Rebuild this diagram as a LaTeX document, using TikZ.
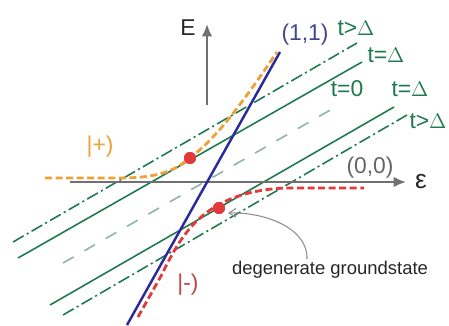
\documentclass[tikz,border=0pt]{standalone}
\usepackage{fontspec}
\setsansfont{Liberation Sans}
\usetikzlibrary{arrows.meta,positioning,calc}
\definecolor{lineG}{HTML}{1E7A4E}
\definecolor{softG}{HTML}{8DB5A6}
\definecolor{lineB}{HTML}{2A2A9C}
\definecolor{txtB}{HTML}{45458F}
\definecolor{stateP}{HTML}{F0A038}
\definecolor{stateM}{HTML}{E23A3A}
\definecolor{txtM}{HTML}{C0454A}
\definecolor{axisG}{HTML}{707070}

\begin{document}
\begin{tikzpicture}[
  x=0.02cm,y=-0.02cm,
  font=\sffamily\fontsize{13}{15}\selectfont,
  every node/.style={align=center,inner sep=1pt},
  axis/.style={line width=1.2pt,axisG,-{Latex[length=7pt,width=6pt]}},
  level/.style={line width=0.9pt,lineG},
  levelx/.style={level,dash pattern=on 7pt off 2pt on 1.2pt off 2pt},
  levelz/.style={line width=0.9pt,softG,dash pattern=on 7pt off 7pt},
  diab/.style={line width=1.4pt,lineB},
  branch/.style={line width=1.6pt,dash pattern=on 4pt off 2pt},
  dot/.style={circle,fill=stateM,minimum size=0.24cm,inner sep=0pt},
  pointer/.style={line width=0.6pt,axisG!80,-{Straight Barb[length=4pt,width=5pt]}}
]
\useasboundingbox (0,0) rectangle (449,325);

% green level lines
\draw[levelx] (13,242) -- (357,43);
\draw[level]  (18,258) -- (362,62);
\draw[levelz] (63,263) -- (339,105);
\draw[level]  (50,305) -- (394,107);
\draw[levelx] (63,315) -- (407,115);

% axes
\coordinate (eps0) at (70,182);
\coordinate (eps1) at (406,182);
\coordinate (en0) at (207,105);
\coordinate (en1) at (207,24);
\draw[axis] (eps0) -- (eps1);
\draw[axis] (en0) -- (en1);

% diabatic line
\coordinate (dia0) at (127,325);
\coordinate (dia1) at (280,52);
\draw[diab] (dia0) -- (dia1);

\node[dot] (dotup) at (190,158) {};
\node[dot] (dotlo) at (219,208) {};

% adiabatic branches
\draw[branch,stateP] (45,178) -- (120,178) .. controls (160,178) and (175,170) .. (dotup.center)
  .. controls (213,140) and (233,117) .. (277,52);
\draw[branch,stateM] (138,317) -- (161,276) .. controls (181,236) and (202,192) .. (285,188) -- (364,188);

\node[dot] at (dotup) {};
\node[dot] at (dotlo) {};

% labels
\node[black!85] (lblE) at (188,28) {E};
\node[txtB] (lbl11) at (305,35) {(1,1)};
\node[lineG] (tgtA) at (356,28) {t>$\Delta$};
\node[lineG] (teqA) at (386,55) {t=$\Delta$};
\node[lineG] (tzero) at (347,89) {t=0};
\node[lineG] (teqB) at (410,89) {t=$\Delta$};
\node[lineG] (tgtB) at (428,121) {t>$\Delta$};
\node[stateP] (lblP) at (100,147) {|+)};
\node[axisG!90!black] (lbl00) at (370,168) {(0,0)};
\node[black!85,font=\sffamily\fontsize{15}{17}\selectfont] (lbleps) at (421,182) {ε};
\node[txtM] (lblM) at (188,285) {|-)};
\node[black!85,font=\sffamily\fontsize{10.5}{12}\selectfont] (lbldeg) at (330,270) {degenerate groundstate};

\coordinate (ptr) at (307,259);
\draw[pointer] (ptr) .. controls (308,228) and (265,212) .. ($(dotlo)+(9,5)$);
\end{tikzpicture}
\end{document}
